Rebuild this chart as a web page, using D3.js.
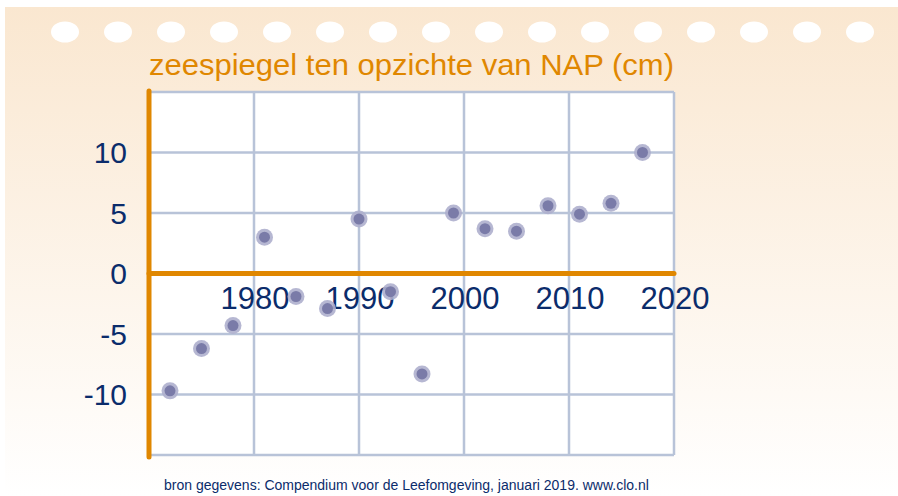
<!DOCTYPE html>
<html>
<head>
<meta charset="utf-8">
<script src="https://cdn.jsdelivr.net/npm/d3@7"></script>
<style>
  body { margin: 0; background: #fff; }
  svg { display: block; font-family: "Liberation Sans", Arial, sans-serif; }
</style>
</head>
<body>
<div id="canvas"></div>
<script>
// data
var years  = [1972, 1975, 1978, 1981, 1984, 1987, 1990, 1993, 1996, 1999, 2002, 2005, 2008, 2011, 2014, 2017];
var values = [-9.7, -6.2, -4.3, 3.0, -1.9, -2.9, 4.5, -1.5, -8.3, 5.0, 3.7, 3.5, 5.6, 4.9, 5.8, 10.0];
var yTicks = [-10, -5, 0, 5, 10];
var xTicks = [1980, 1990, 2000, 2010, 2020];
var title = "zeespiegel ten opzichte van NAP (cm)";
var source = "bron gegevens: Compendium voor de Leefomgeving, januari 2019. www.clo.nl";

var W = 898, H = 496;
var margin = {top: 92, right: 224, bottom: 41, left: 149},
    width = W - margin.left - margin.right,
    height = H - margin.top - margin.bottom;

var orange = "#e08700", navy = "#0b2c6b", grid = "#b8c3d8";

var svg = d3.select("#canvas").append("svg")
    .attr("width", W)
    .attr("height", H);

var grad = svg.append("defs").append("linearGradient")
    .attr("id", "bg").attr("x1", 0).attr("y1", 0).attr("x2", 0).attr("y2", 1);
grad.append("stop").attr("offset", "0%").attr("stop-color", "#fae7d0");
grad.append("stop").attr("offset", "100%").attr("stop-color", "#ffffff");

svg.append("rect")
    .attr("x", 5).attr("y", 7)
    .attr("width", W - 5).attr("height", H - 7)
    .attr("fill", "url(#bg)");

// punch holes along the top
var holes = d3.range(16);
svg.selectAll("ellipse.hole")
    .data(holes)
  .enter().append("ellipse")
    .attr("class", "hole")
    .attr("cx", function(d) { return 65 + d * 53; })
    .attr("cy", 32)
    .attr("rx", 14).attr("ry", 10.5)
    .attr("fill", "#fff");

svg.append("text")
    .attr("x", 149).attr("y", 75)
    .attr("fill", orange)
    .attr("textLength", 525)
    .attr("lengthAdjust", "spacingAndGlyphs")
    .style("font-size", "29px")
    .text(title);

var x = d3.scaleLinear().domain([1970, 2020]).range([0, width]);
var y = d3.scaleLinear().domain([-15, 15]).range([height, 0]);

var g = svg.append("g")
    .attr("transform", "translate(" + margin.left + "," + margin.top + ")");

g.append("rect")
    .attr("width", width).attr("height", height)
    .attr("fill", "#fff");

g.selectAll("line.vgrid")
    .data(d3.range(1970, 2021, 10))
  .enter().append("line")
    .attr("class", "vgrid")
    .attr("x1", x).attr("x2", x)
    .attr("y1", 0).attr("y2", height)
    .attr("stroke", grid).attr("stroke-width", 2.5);

g.selectAll("line.hgrid")
    .data(d3.range(-15, 16, 5))
  .enter().append("line")
    .attr("class", "hgrid")
    .attr("y1", y).attr("y2", y)
    .attr("x1", 0).attr("x2", width)
    .attr("stroke", grid).attr("stroke-width", 2.5);

// orange axes
g.append("line")
    .attr("x1", 0).attr("x2", width)
    .attr("y1", y(0)).attr("y2", y(0))
    .attr("stroke", orange).attr("stroke-width", 5)
    .attr("stroke-linecap", "round");

g.append("line")
    .attr("x1", 0).attr("x2", 0)
    .attr("y1", -1).attr("y2", height + 2)
    .attr("stroke", orange).attr("stroke-width", 5)
    .attr("stroke-linecap", "round");

g.selectAll("text.ylab")
    .data(yTicks)
  .enter().append("text")
    .attr("class", "ylab")
    .attr("x", -22)
    .attr("y", y)
    .attr("dy", "0.36em")
    .attr("text-anchor", "end")
    .attr("fill", navy)
    .style("font-size", "30px")
    .text(function(d) { return d; });

g.selectAll("text.xlab")
    .data(xTicks)
  .enter().append("text")
    .attr("class", "xlab")
    .attr("x", function(d) { return x(d) + 1; })
    .attr("y", y(0) + 35.5)
    .attr("text-anchor", "middle")
    .attr("fill", navy)
    .style("font-size", "31px")
    .text(function(d) { return d; });

var pts = years.map(function(d, i) { return {year: d, value: values[i]}; });

var dots = g.selectAll("g.dot")
    .data(pts)
  .enter().append("g")
    .attr("class", "dot")
    .attr("transform", function(d) { return "translate(" + x(d.year) + "," + y(d.value) + ")"; });

dots.append("circle")
    .attr("r", 8.5)
    .attr("fill", "#aeafcd")
    .attr("fill-opacity", 0.9);

dots.append("circle")
    .attr("r", 5.5)
    .attr("fill", "#7a7ba8");

svg.append("text")
    .attr("x", 164).attr("y", 490)
    .attr("fill", navy)
    .style("font-size", "14px")
    .text(source);
</script>
</body>
</html>
